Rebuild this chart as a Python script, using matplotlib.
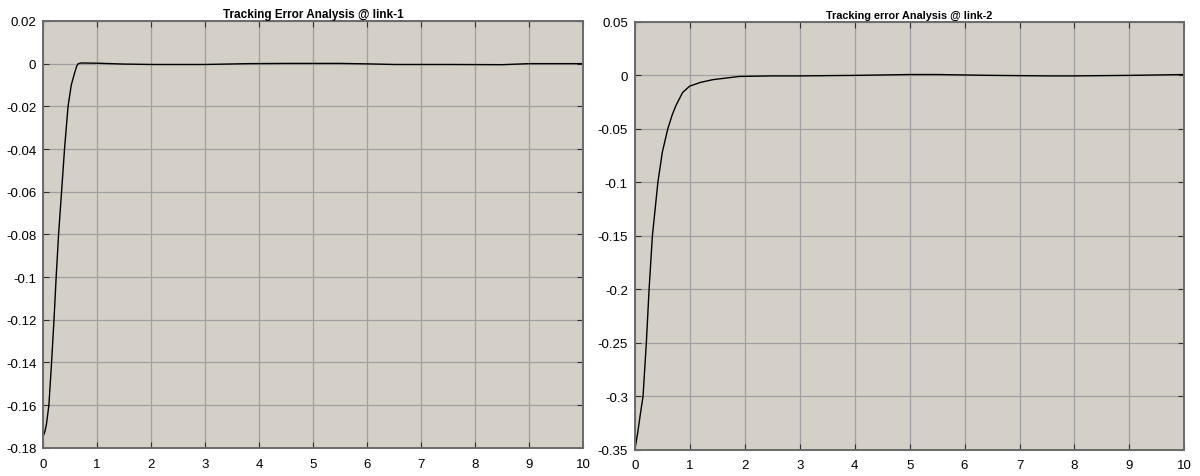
import matplotlib

matplotlib.use("Agg")
import matplotlib.pyplot as plt

plt.rcParams["font.family"] = ["Liberation Sans", "DejaVu Sans"]

# link-1 tracking error (time s, error)
t1 = [0.0, 0.03, 0.06, 0.105, 0.155, 0.20, 0.24, 0.285, 0.34, 0.395, 0.46, 0.52, 0.58, 0.62,
      0.65, 0.7, 1.0, 1.5, 2.0, 3.0, 3.8, 4.5, 5.5, 6.0, 6.5, 7.5, 8.5, 9.0, 10.0]
e1 = [-0.1745, -0.1725, -0.169, -0.160, -0.140, -0.120, -0.100, -0.080, -0.060, -0.040,
      -0.020, -0.010, -0.0045, -0.0012, 0.0,
      0.0003, 0.0002, -0.0002, -0.0004, -0.0004, 0.0, 0.0001, 0.0001, -0.0001, -0.0004,
      -0.0004, -0.0005, 0.0, 0.0]

# link-2 tracking error
t2 = [0.0, 0.05, 0.10, 0.15, 0.21, 0.26, 0.32, 0.42, 0.50, 0.60, 0.68, 0.75, 0.87, 1.0,
      1.2, 1.42, 1.9, 2.5, 3.0, 4.0, 5.0, 5.5, 6.5, 7.5, 8.0, 9.0, 10.0]
e2 = [-0.350, -0.335, -0.317, -0.300, -0.250, -0.200, -0.150, -0.100, -0.072, -0.050,
      -0.037, -0.028, -0.016, -0.010, -0.0065, -0.004,
      -0.001, -0.0005, -0.0005, 0.0, 0.0008, 0.0008, 0.0, -0.0005, -0.0005, 0.0, 0.0008]

BG = "#d4d0c8"


def style(ax, ylim, yticks, ylabels):
    ax.set_facecolor(BG)
    ax.set_xlim(0, 10)
    ax.set_ylim(*ylim)
    ax.set_xticks(range(11))
    ax.set_yticks(yticks)
    ax.set_yticklabels(ylabels)
    ax.grid(True, color="#a0a0a0", lw=0.9)
    ax.tick_params(direction="in", top=True, right=True, length=4, labelsize=9.5,
                   color="#303030")
    ax.tick_params(axis="x", pad=7)
    ax.tick_params(axis="y", pad=5)
    for s in ax.spines.values():
        s.set_color("#6a6a6a")
        s.set_linewidth(1.4)


fig = plt.figure(figsize=(12, 4.77), dpi=100)

ax1 = fig.add_axes([0.036, 0.059, 0.450, 0.895])
ax1.plot(t1, e1, color="black", lw=1.0)
yt1 = [0.02 - 0.02 * i for i in range(11)]
style(ax1, (-0.18, 0.02), yt1,
      ["0.02", "0", "-0.02", "-0.04", "-0.06", "-0.08", "-0.1", "-0.12", "-0.14",
       "-0.16", "-0.18"])
ax1.set_title("Tracking Error Analysis @ link-1", fontsize=8.5, fontweight="bold", pad=3)

ax2 = fig.add_axes([0.529, 0.055, 0.458, 0.897])
ax2.plot(t2, e2, color="black", lw=1.0)
yt2 = [0.05 - 0.05 * i for i in range(9)]
style(ax2, (-0.35, 0.05), yt2,
      ["0.05", "0", "-0.05", "-0.1", "-0.15", "-0.2", "-0.25", "-0.3", "-0.35"])
ax2.set_title("Tracking error Analysis @ link-2", fontsize=7.8, fontweight="bold", pad=3)

fig.savefig("out.png", dpi=100)
